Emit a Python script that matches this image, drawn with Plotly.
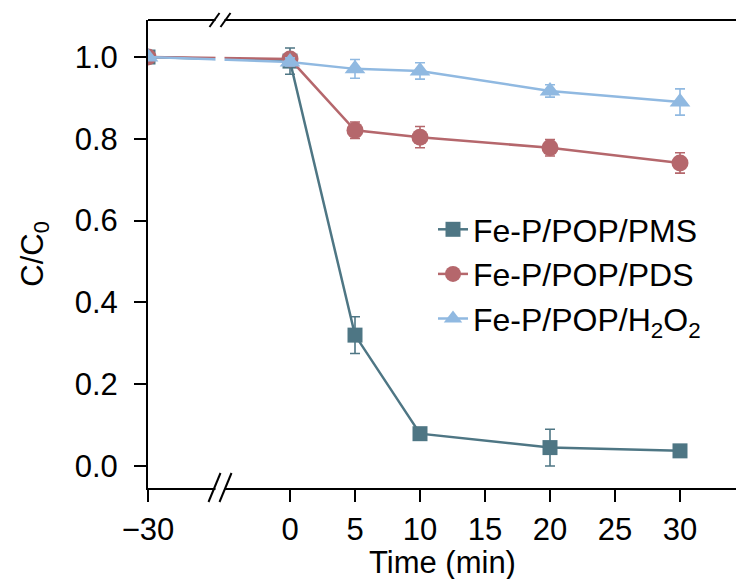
import plotly.graph_objects as go

# Sampling times (min); -30 is the dark-adsorption start before the axis break
time_min = [-30, 0, 5, 10, 20, 30]

pms = [1.0, 0.99, 0.32, 0.079, 0.045, 0.037]
pms_err = [0.0, 0.032, 0.045, 0.006, 0.045, 0.006]

pds = [1.0, 0.995, 0.821, 0.804, 0.778, 0.741]
pds_err = [0.0, 0.012, 0.02, 0.026, 0.02, 0.025]

h2o2 = [1.0, 0.988, 0.971, 0.966, 0.917, 0.89]
h2o2_err = [0.0, 0.01, 0.023, 0.02, 0.015, 0.032]

x_tick_values = [-30, 0, 5, 10, 15, 20, 25, 30]
x_tick_labels = ["\u221230", "0", "5", "10", "15", "20", "25", "30"]
y_tick_values = [0.0, 0.2, 0.4, 0.6, 0.8, 1.0]

names = ["Fe-P/POP/PMS", "Fe-P/POP/PDS", "Fe-P/POP/H<sub>2</sub>O<sub>2</sub>"]
colors = ["#4e7684", "#b5676c", "#90b9e1"]
symbols = ["square", "circle", "triangle-up"]
sizes = [15, 17, 18]

# Broken time axis: the negative segment is compressed onto a short stretch
PRE_SPAN = 10.923  # axis units used by the -30..0 segment


def to_axis(t):
    return t if t >= 0 else t * PRE_SPAN / 30.0


W, H = 736, 579
ML, MR, MT, MB = 148, 0, 20, 91
PW, PH = W - ML - MR, H - MT - MB
X_RANGE = [-PRE_SPAN, -PRE_SPAN + PW / 13.0]
Y_RANGE = [-0.0538, 1.0905]

FONT = "Liberation Sans, Arial, sans-serif"
FS = 31

fig = go.Figure()
for vals, errs, name, col, sym, sz in zip(
    [pms, pds, h2o2], [pms_err, pds_err, h2o2_err], names, colors, symbols, sizes
):
    fig.add_trace(
        go.Scatter(
            x=[to_axis(t) for t in time_min],
            y=vals,
            name=name,
            mode="lines+markers",
            line=dict(color=col, width=2.5),
            marker=dict(symbol=sym, size=sz, color=col),
            error_y=dict(type="data", array=errs, visible=True,
                         color=col, thickness=1.6, width=5),
        )
    )


def px_to_paper_x(px):
    return (px - ML) / PW


def py_to_paper_y(py):
    return (MT + PH - py) / PH


shapes = []
# top frame line (no right spine)
shapes.append(dict(type="line", xref="paper", yref="paper", x0=0, x1=1, y0=1, y1=1,
                   line=dict(color="black", width=2), layer="above"))
# white gap for the axis break, cutting series lines and both spines
shapes.append(dict(type="rect", xref="paper", yref="paper",
                   x0=px_to_paper_x(215.5), x1=px_to_paper_x(224.5),
                   y0=-0.02, y1=1.02, fillcolor="white", line=dict(width=0), layer="above"))
# break marks
for cx in (214.5, 225.5):
    shapes.append(dict(type="line", xref="paper", yref="paper",
                       x0=px_to_paper_x(cx - 5), y0=py_to_paper_y(27),
                       x1=px_to_paper_x(cx + 5), y1=py_to_paper_y(13),
                       line=dict(color="black", width=2), layer="above"))
    shapes.append(dict(type="line", xref="paper", yref="paper",
                       x0=px_to_paper_x(cx - 6), y0=py_to_paper_y(502),
                       x1=px_to_paper_x(cx + 6), y1=py_to_paper_y(473),
                       line=dict(color="black", width=2), layer="above"))

fig.update_layout(
    width=W, height=H,
    margin=dict(l=ML, r=MR, t=MT, b=MB, pad=0),
    paper_bgcolor="white", plot_bgcolor="white",
    font=dict(family=FONT, size=FS, color="black"),
    showlegend=True,
    legend=dict(x=px_to_paper_x(433), y=py_to_paper_y(202), xanchor="left", yanchor="top",
                bgcolor="rgba(0,0,0,0)", font=dict(size=32), tracegroupgap=0),
    shapes=shapes,
    annotations=[dict(text="Time (min)", xref="paper", yref="paper",
                      x=0.5, y=py_to_paper_y(562), xanchor="center", yanchor="middle",
                      showarrow=False, font=dict(size=FS))],
)

fig.update_xaxes(
    range=X_RANGE,
    tickmode="array",
    tickvals=[to_axis(t) for t in x_tick_values],
    ticktext=x_tick_labels,
    ticks="outside", ticklen=12, tickwidth=2, tickcolor="black",
    ticklabelstandoff=1,
    showline=True, linecolor="black", linewidth=2,
    showgrid=False, zeroline=False,
    tickfont=dict(size=FS),
)
fig.update_yaxes(
    range=Y_RANGE,
    tickmode="array",
    tickvals=y_tick_values,
    tickformat=".1f",
    ticks="outside", ticklen=12, tickwidth=2, tickcolor="black",
    ticklabelstandoff=10,
    showline=True, linecolor="black", linewidth=2,
    showgrid=False, zeroline=False,
    tickfont=dict(size=FS),
    title=dict(text="C/C<sub>0</sub>", font=dict(size=FS), standoff=22),
)

fig.write_html("out.html")
